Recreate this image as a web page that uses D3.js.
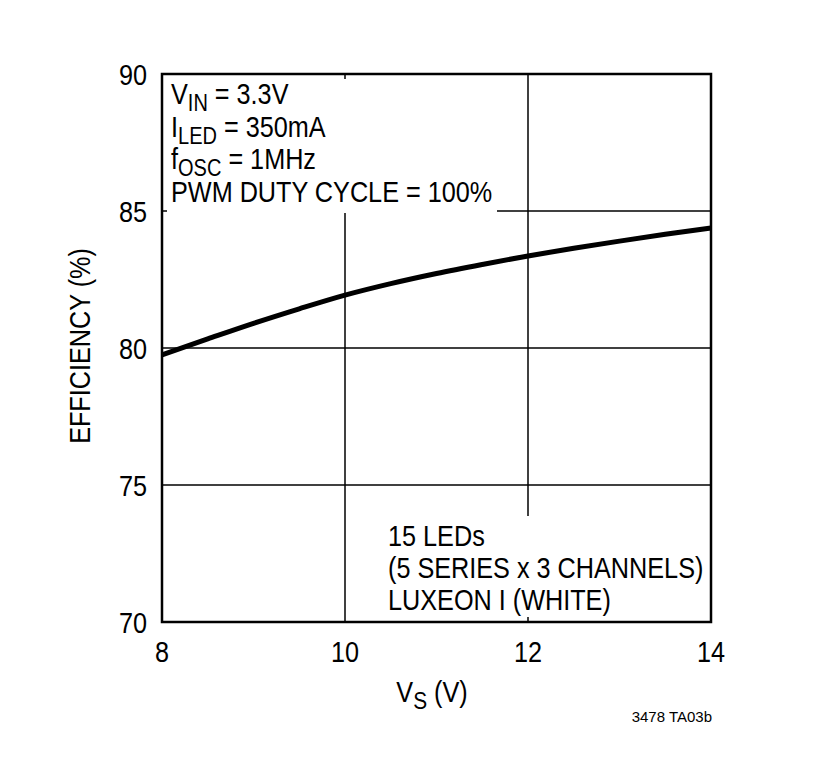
<!DOCTYPE html>
<html><head><meta charset="utf-8">
<script src="https://cdn.jsdelivr.net/npm/d3@7"></script>
<style>body{margin:0;background:#fff}svg{display:block}text{font-family:"Liberation Sans Narrow","Arial Narrow","Liberation Sans",sans-serif;fill:#000}</style>
</head><body><svg id="c" width="837" height="757"></svg>
<script>
const vs = [8, 8.5, 9, 9.5, 10, 10.5, 11, 11.5, 12, 12.5, 13, 13.5, 14];
const efficiency = [79.75, 80.33, 80.9, 81.43, 81.93, 82.35, 82.72, 83.05, 83.36, 83.64, 83.9, 84.15, 84.38];
const xTicks = [8, 10, 12, 14];
const yTicks = [70, 75, 80, 85, 90];
const conditions = [["V", "IN", " = 3.3V"], ["I", "LED", " = 350mA"], ["f", "OSC", " = 1MHz"], ["PWM DUTY CYCLE = 100%", "", ""]];
const ledNotes = ["15 LEDs", "(5 SERIES x 3 CHANNELS)", "LUXEON I (WHITE)"];

const svg = d3.select("#c");
const L = 162, R = 711, T = 74, B = 622;
const SX = 0.87, FS = 29;
const x = d3.scaleLinear().domain([8, 14]).range([L, R]);
const y = d3.scaleLinear().domain([70, 90]).range([B, T]);

function txt(px, py, anchor, size, rot) {
  return svg.append("text")
    .attr("transform", `translate(${px},${py})` + (rot ? ` rotate(${rot})` : "") + ` scale(${SX},1)`)
    .attr("text-anchor", anchor).attr("font-size", size);
}

// gridlines
const g = svg.append("g").attr("stroke", "#000").attr("stroke-width", 1.5);
xTicks.slice(1, -1).forEach(v => g.append("line").attr("x1", x(v)).attr("x2", x(v)).attr("y1", T).attr("y2", B));
yTicks.slice(1, -1).forEach(v => g.append("line").attr("y1", y(v)).attr("y2", y(v)).attr("x1", L).attr("x2", R));

// masks behind text blocks
svg.append("rect").attr("x", L + 5).attr("y", T + 5).attr("width", 497 - L - 5).attr("height", 213 - T - 5).attr("fill", "#fff");
svg.append("rect").attr("x", 385).attr("y", 516).attr("width", 322).attr("height", B - 516 - 5).attr("fill", "#fff");

// curve
svg.append("path")
  .datum(vs.map((v, i) => [v, efficiency[i]]))
  .attr("fill", "none").attr("stroke", "#000").attr("stroke-width", 5)
  .attr("d", d3.line().x(d => x(d[0])).y(d => y(d[1])).curve(d3.curveMonotoneX));

// frame
svg.append("rect").attr("x", L).attr("y", T).attr("width", R - L).attr("height", B - T)
  .attr("fill", "none").attr("stroke", "#000").attr("stroke-width", 2.5);

// tick labels
xTicks.forEach(d => txt(x(d), 662, "middle", FS).text(d));
yTicks.forEach(d => txt(147, y(d) + 11, "end", FS).text(d));

// axis titles
txt(90, 346, "middle", FS, -90).text("EFFICIENCY (%)");
const xl = txt(432, 702, "middle", FS);
xl.append("tspan").text("V");
xl.append("tspan").attr("dy", 7).attr("font-size", 24).text("S");
xl.append("tspan").attr("dy", -7).text(" (V)");

svg.append("text").attr("x", 712).attr("y", 722).attr("text-anchor", "end").attr("font-size", 15).text("3478 TA03b");

// condition annotations
conditions.forEach((c, i) => {
  const t = txt(171, 104 + i * 32.7, "start", FS);
  t.append("tspan").text(c[0]);
  if (c[1]) {
    t.append("tspan").attr("dy", 7).attr("font-size", 23).text(c[1]);
    t.append("tspan").attr("dy", -7).text(c[2]);
  }
});

ledNotes.forEach((s, i) => txt(388, 546 + i * 32, "start", FS).text(s));
</script></body></html>
